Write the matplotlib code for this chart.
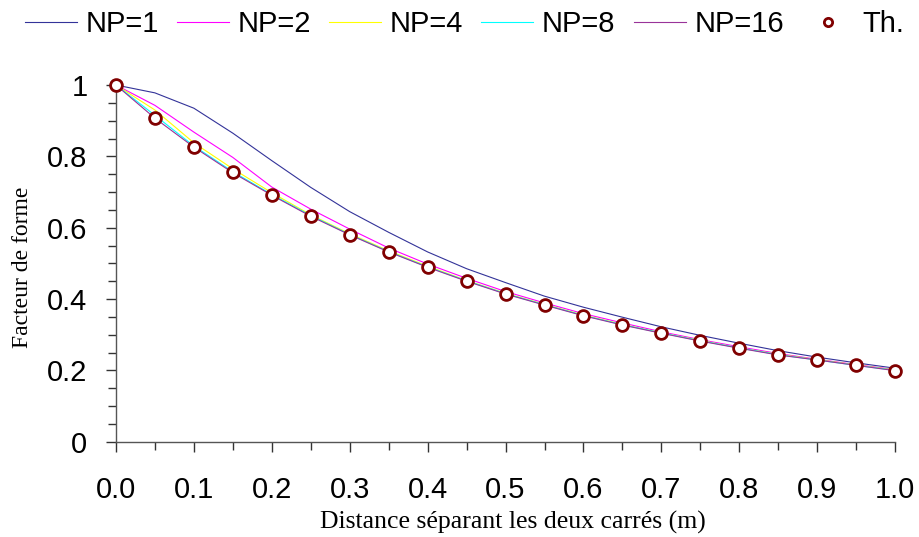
import matplotlib
matplotlib.use("Agg")
import matplotlib.pyplot as plt
from matplotlib.ticker import MultipleLocator, FormatStrFormatter, FuncFormatter

# distance between the two squares (m)
distance = [0.00, 0.05, 0.10, 0.15, 0.20, 0.25, 0.30, 0.35, 0.40, 0.45, 0.50,
            0.55, 0.60, 0.65, 0.70, 0.75, 0.80, 0.85, 0.90, 0.95, 1.00]

# view factor for each number of points
np1 = [1.000, 0.978, 0.935, 0.865, 0.788, 0.713, 0.645, 0.587, 0.532, 0.485, 0.446,
       0.408, 0.377, 0.349, 0.322, 0.298, 0.276, 0.255, 0.237, 0.221, 0.206]
np2 = [1.000, 0.943, 0.868, 0.797, 0.714, 0.652, 0.596, 0.543, 0.498, 0.458, 0.421,
       0.389, 0.359, 0.333, 0.308, 0.286, 0.266, 0.247, 0.231, 0.216, 0.202]
np4 = [1.000, 0.930, 0.838, 0.765, 0.698, 0.636, 0.583, 0.535, 0.492, 0.452, 0.416,
       0.385, 0.355, 0.329, 0.305, 0.284, 0.263, 0.245, 0.230, 0.215, 0.201]
np8 = [1.000, 0.915, 0.829, 0.757, 0.693, 0.634, 0.581, 0.533, 0.490, 0.451, 0.415,
       0.384, 0.354, 0.328, 0.305, 0.283, 0.263, 0.244, 0.229, 0.214, 0.200]
np16 = [1.000, 0.907, 0.826, 0.754, 0.691, 0.632, 0.580, 0.532, 0.489, 0.450, 0.414,
        0.383, 0.353, 0.327, 0.304, 0.282, 0.262, 0.243, 0.229, 0.214, 0.199]
theory = [1.000, 0.908, 0.827, 0.755, 0.692, 0.633, 0.580, 0.531, 0.489, 0.450, 0.414,
          0.383, 0.353, 0.327, 0.304, 0.282, 0.262, 0.243, 0.229, 0.214, 0.199]

sans = ['Liberation Sans', 'DejaVu Sans']
serif = ['Liberation Serif', 'DejaVu Serif']
plt.rcParams['font.family'] = sans

fig = plt.figure(figsize=(9.2, 5.37), dpi=100)
ax = fig.add_axes([0.126, 0.1775, 0.973 - 0.126, 0.8417 - 0.1775])

lw = 0.8
ax.plot(distance, np1, color='#333399', lw=lw, label='NP=1')
ax.plot(distance, np2, color='#FF00FF', lw=lw, label='NP=2')
ax.plot(distance, np4, color='#FFFF00', lw=lw, label='NP=4')
ax.plot(distance, np8, color='#00FFFF', lw=lw, label='NP=8')
ax.plot(distance, np16, color='#993399', lw=lw, label='NP=16')
ax.plot(distance, theory, ls='none', marker='o', ms=8.5, mew=2,
        mfc='white', mec='#800000', label='Th.', clip_on=False, zorder=5)

ax.set_xlim(0, 1)
ax.set_ylim(0, 1)
for side in ['top', 'right']:
    ax.spines[side].set_visible(False)
for side in ['left', 'bottom']:
    ax.spines[side].set_color('#555555')
    ax.spines[side].set_linewidth(1.0)

ax.xaxis.set_major_locator(MultipleLocator(0.1))
ax.xaxis.set_minor_locator(MultipleLocator(0.05))
ax.yaxis.set_major_locator(MultipleLocator(0.2))
ax.yaxis.set_minor_locator(MultipleLocator(0.05))
ax.xaxis.set_major_formatter(FormatStrFormatter('%.1f'))
ax.yaxis.set_major_formatter(FuncFormatter(lambda v, p: '%g' % round(v, 2)))
ax.tick_params(which='major', length=7.5, width=1, color='#333333',
               labelsize=21, direction='out')
ax.tick_params(which='minor', length=5.5, width=1, color='#333333', direction='out')
ax.tick_params(axis='x', which='major', pad=17.5)
ax.tick_params(axis='y', which='major', pad=13)

ax.set_xlabel('Distance séparant les deux carrés (m)', family=serif, fontsize=18.5)
ax.set_ylabel('Facteur de forme', family=serif, fontsize=17)
ax.xaxis.set_label_coords(0.51, -0.195)
ax.yaxis.set_label_coords(-0.106, 0.49)

fig.legend(loc='center left', bbox_to_anchor=(0.027, 0.955), ncol=6,
           frameon=False, fontsize=21, handlelength=1.78, handletextpad=0.3,
           columnspacing=0.62, borderpad=0, borderaxespad=0, markerscale=0.7)

fig.savefig('out.png', dpi=100)
